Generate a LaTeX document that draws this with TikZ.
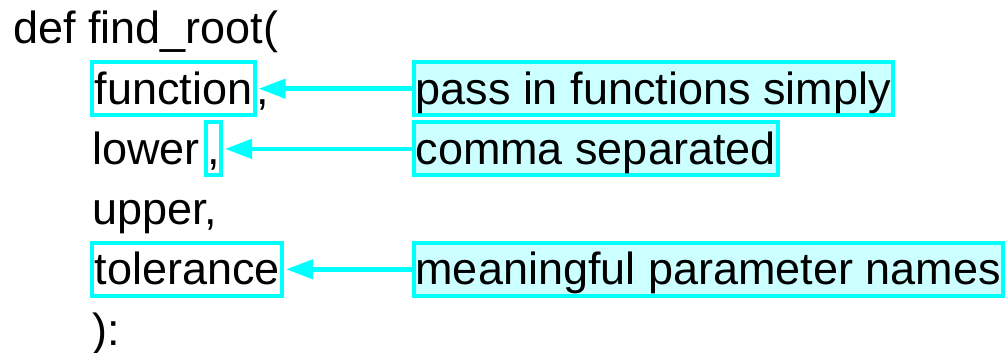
\documentclass[tikz,border=0pt]{standalone}
\usepackage{fontspec}
\setmainfont{Liberation Sans}
\usetikzlibrary{arrows.meta}
\definecolor{hlc}{HTML}{00FFFF}
\definecolor{hlfill}{HTML}{CCFFFF}
\begin{document}
\begin{tikzpicture}[x=1pt,y=-1pt,
  font=\fontsize{45pt}{54pt}\selectfont,
  code/.style={inner sep=0pt, anchor=base west},
  hlbox/.style={draw=hlc, line width=4pt, inner xsep=2.5pt, inner ysep=0pt,
    text height=42pt, text depth=11pt, anchor=base west},
  note/.style={hlbox, fill=hlfill, inner xsep=2pt},
  ptr/.style={draw=hlc, line width=4.5pt, shorten >=2pt,
    -{Triangle[length=27pt,width=19pt]}}]
\useasboundingbox (0,0) rectangle (1007,353);
% code lines
\node[code] (l1) at (13,44) {def find\_root(};
\node[hlbox] (fn) at (90,104.2) {function};
\node[code] (fncomma) at (fn.base east) {,};
\node[code] (lower) at (92,164.4) {lower};
\node[hlbox, inner xsep=1.5pt] (cm) at (203.5,164.4) {,};
\node[code] (upper) at (92,224.6) {upper,};
\node[hlbox] (tol) at (90,284.8) {tolerance};
\node[code] (close) at (92,345) {):};
% notes
\node[note] (n1) at (411.5,104.2) {pass in functions simply};
\node[note] (n2) at (411.5,164.4) {comma separated};
\node[note] (n3) at (411.5,284.8) {meaningful parameter names};
% arrows
\draw[ptr] (n1.west) -- (fn.east);
\draw[ptr] (n2.west) -- (cm.east);
\draw[ptr] (n3.west) -- (tol.east);
\end{tikzpicture}
\end{document}
